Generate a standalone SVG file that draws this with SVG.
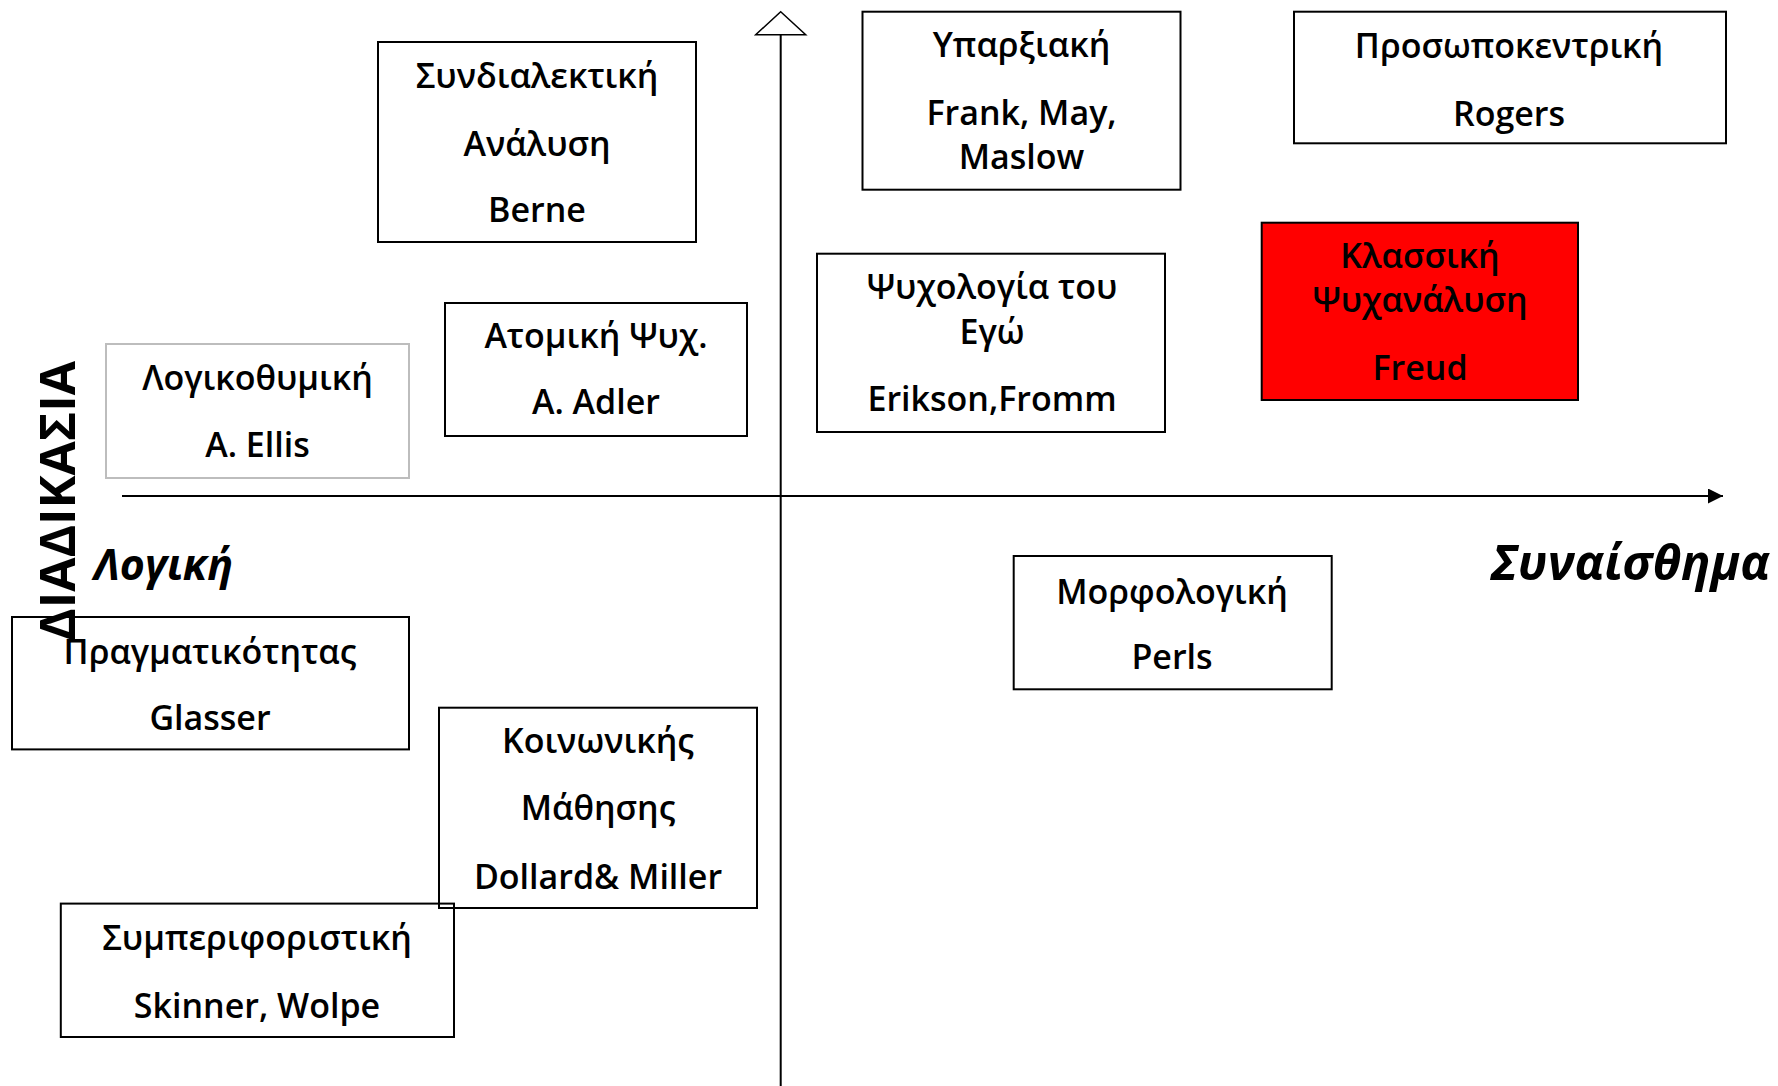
<svg xmlns="http://www.w3.org/2000/svg" width="1778" height="1086" viewBox="0 0 1778 1086">
<style>
.box{fill:none;stroke:#000;stroke-width:2}
.grey{fill:none;stroke:#bdbdbd;stroke-width:2}
.red{fill:#ff0000;stroke:#000;stroke-width:2}
.t{font-family:"Open Sans","Noto Sans","DejaVu Sans",sans-serif;font-weight:600;font-size:34px;fill:#000;text-anchor:middle}
.ax{stroke:#000;stroke-width:2;fill:none}
</style>
<defs>
<marker id="ah" markerWidth="16" markerHeight="16" refX="15" refY="7.5" orient="auto" markerUnits="userSpaceOnUse">
<path d="M0,0 L15,7.5 L0,15 Z" fill="#000"/>
</marker>
</defs>
<rect width="1778" height="1086" fill="#fff"/>
<g id="connectors">
<line class="ax" x1="780.7" y1="35" x2="780.7" y2="1086"/>
<path d="M780.7,11.7 L805.7,34.7 L755.7,34.7 Z" fill="#fff" stroke="#000" stroke-width="1.5"/>
<line class="ax" x1="122" y1="496" x2="1723" y2="496" marker-end="url(#ah)"/>
</g>
<g id="n-syndialektiki">
<rect class="box" x="378" y="42" width="318" height="200"/>
<text class="t" x="537" y="87.5">Συνδιαλεκτική</text>
<text class="t" x="537" y="155.5">Ανάλυση</text>
<text class="t" x="537" y="222">Berne</text>
</g>
<g id="n-atomiki">
<rect class="box" x="445" y="303" width="302" height="133"/>
<text class="t" x="596" y="347.5">Ατομική Ψυχ.</text>
<text class="t" x="596" y="414">A. Adler</text>
</g>
<g id="n-logikothymiki">
<rect class="grey" x="106" y="344" width="303" height="134"/>
<text class="t" x="257.5" y="390">Λογικοθυμική</text>
<text class="t" x="257.5" y="456.5">A. Ellis</text>
</g>
<g id="n-yparxiaki">
<rect class="box" x="862.5" y="11.7" width="318" height="178"/>
<text class="t" x="1021.5" y="57">Υπαρξιακή</text>
<text class="t" x="1021.5" y="125">Frank, May,</text>
<text class="t" x="1021.5" y="168.5">Maslow</text>
</g>
<g id="n-prosopokentriki">
<rect class="box" x="1294" y="11.7" width="432" height="131.6"/>
<text class="t" x="1509" y="57.5">Προσωποκεντρική</text>
<text class="t" x="1509" y="125.5">Rogers</text>
</g>
<g id="n-ego">
<rect class="box" x="817" y="253.7" width="348" height="178.3"/>
<text class="t" x="992" y="299">Ψυχολογία του</text>
<text class="t" x="992" y="344">Εγώ</text>
<text class="t" x="992" y="411">Erikson,Fromm</text>
</g>
<g id="n-klassiki">
<rect class="red" x="1261.7" y="222.7" width="316.3" height="177.3"/>
<text class="t" x="1420" y="268">Κλασσική</text>
<text class="t" x="1420" y="311.5">Ψυχανάλυση</text>
<text class="t" x="1420" y="380">Freud</text>
</g>
<g id="n-morfologiki">
<rect class="box" x="1013.7" y="556" width="318" height="133.3"/>
<text class="t" x="1172" y="603.5">Μορφολογική</text>
<text class="t" x="1172" y="668.5">Perls</text>
</g>
<g id="n-pragmatikotitas">
<rect class="box" x="12" y="617" width="397" height="132.4"/>
<text class="t" x="210" y="663.5">Πραγματικότητας</text>
<text class="t" x="210" y="730">Glasser</text>
</g>
<g id="n-koinonikis">
<rect class="box" x="439" y="707.7" width="318" height="200.3"/>
<text class="t" x="598" y="753">Κοινωνικής</text>
<text class="t" x="598" y="820">Μάθησης</text>
<text class="t" x="598" y="888.5">Dollard&amp; Miller</text>
</g>
<g id="n-symperiforistiki">
<rect class="box" x="60.8" y="903.6" width="393.2" height="133.4"/>
<text class="t" x="257" y="950">Συμπεριφοριστική</text>
<text class="t" x="257" y="1017.5">Skinner, Wolpe</text>
</g>
<g id="labels">
<text x="0" y="0" transform="translate(75,641) rotate(-90)" font-family="'Open Sans','DejaVu Sans',sans-serif" font-weight="700" font-size="48" textLength="280" lengthAdjust="spacingAndGlyphs">ΔΙΑΔΙΚΑΣΙΑ</text>
<text x="94" y="580" font-family="'Open Sans','DejaVu Sans',sans-serif" font-weight="700" font-style="italic" font-size="43">Λογική</text>
<text x="1491" y="579.5" font-family="'Open Sans','DejaVu Sans',sans-serif" font-weight="700" font-style="italic" font-size="48" textLength="279" lengthAdjust="spacingAndGlyphs">Συναίσθημα</text>
</g>
</svg>
